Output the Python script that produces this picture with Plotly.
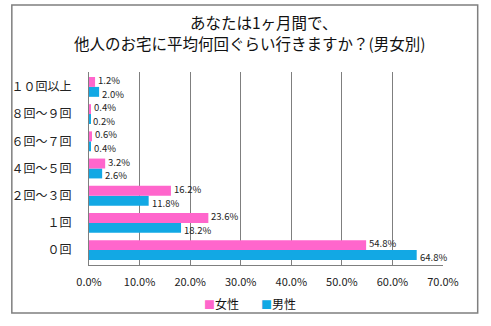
import plotly.graph_objects as go

categories = ["０回", "１回", "２回～３回", "４回～５回", "６回～７回", "８回～９回", "１０回以上"]
female = [54.8, 23.6, 16.2, 3.2, 0.6, 0.4, 1.2]
male = [64.8, 18.2, 11.8, 2.6, 0.4, 0.2, 2.0]
tick_vals = [0, 10, 20, 30, 40, 50, 60, 70]
tick_text = [f"{v:.1f}%" for v in tick_vals]

PINK = "#FF66CC"
BLUE = "#12A8E4"
FONT = "Noto Sans CJK JP"

fig = go.Figure()
# In horizontal group mode the first trace sits lowest, so 男性 goes first
fig.add_trace(go.Bar(
    y=categories, x=male, name="男性", orientation="h",
    marker=dict(color=BLUE, line=dict(width=0)),
))
fig.add_trace(go.Bar(
    y=categories, x=female, name="女性", orientation="h",
    marker=dict(color=PINK, line=dict(width=0)),
))

annotations = []
# Value labels just past each bar end: 女性 nudged up, 男性 nudged down
for vals, shift in [(female, 6.9), (male, -6.9)]:
    for cat, v in zip(categories, vals):
        annotations.append(dict(
            text=f"{v:.1f}%", x=v, y=cat, xref="x", yref="y",
            xanchor="left", yanchor="middle", xshift=2, yshift=shift,
            showarrow=False, borderpad=0,
            font=dict(size=9.5, color="#222", family=FONT),
        ))

title_lines = [("あなたは1ヶ月間で、", 0.494, 1.258),
               ("他人のお宅に平均何回ぐらい行きますか？(男女別)", 0.4525, 1.152)]
for line, xx, yy in title_lines:
    annotations.append(dict(
        text=line, xref="paper", yref="paper", x=xx, y=yy,
        xanchor="center", yanchor="middle", showarrow=False,
        font=dict(size=15.5, color="#111", family=FONT),
    ))

# Legend drawn as coloured squares beside the series names
for name, color, xx in [("女性", PINK, 0.375), ("男性", BLUE, 0.535)]:
    annotations.append(dict(
        text=f"<span style='color:{color}; font-size:11px'>■</span>{name}",
        xref="paper", yref="paper", x=xx, y=-0.197,
        xanchor="center", yanchor="middle", showarrow=False,
        font=dict(size=12, color="#111", family=FONT),
    ))

fig.update_layout(
    width=491, height=326,
    margin=dict(l=85, r=48, t=72, b=61),
    paper_bgcolor="white", plot_bgcolor="white",
    barmode="group", bargap=0.27, bargroupgap=0,
    font=dict(family=FONT, color="#222"),
    showlegend=False,
    xaxis=dict(
        range=[0, 70], tickvals=tick_vals, ticktext=tick_text,
        showgrid=True, gridcolor="#7f7f7f", gridwidth=1,
        zeroline=False, showline=True, linecolor="#7f7f7f",
        ticks="", tickfont=dict(size=11, color="#222"), ticklabelstandoff=7,
    ),
    yaxis=dict(
        showgrid=False, zeroline=False, showline=True, linecolor="#7f7f7f",
        ticks="", tickfont=dict(size=12, color="#222"), ticklabelstandoff=14,
    ),
    annotations=annotations,
    shapes=[dict(
        type="rect", xref="paper", yref="paper",
        x0=-0.218, x1=1.098, y0=-0.249, y1=1.347,
        line=dict(color="#7f7f7f", width=1.5), fillcolor="rgba(0,0,0,0)",
    )],
)

fig.write_html("out.html")
